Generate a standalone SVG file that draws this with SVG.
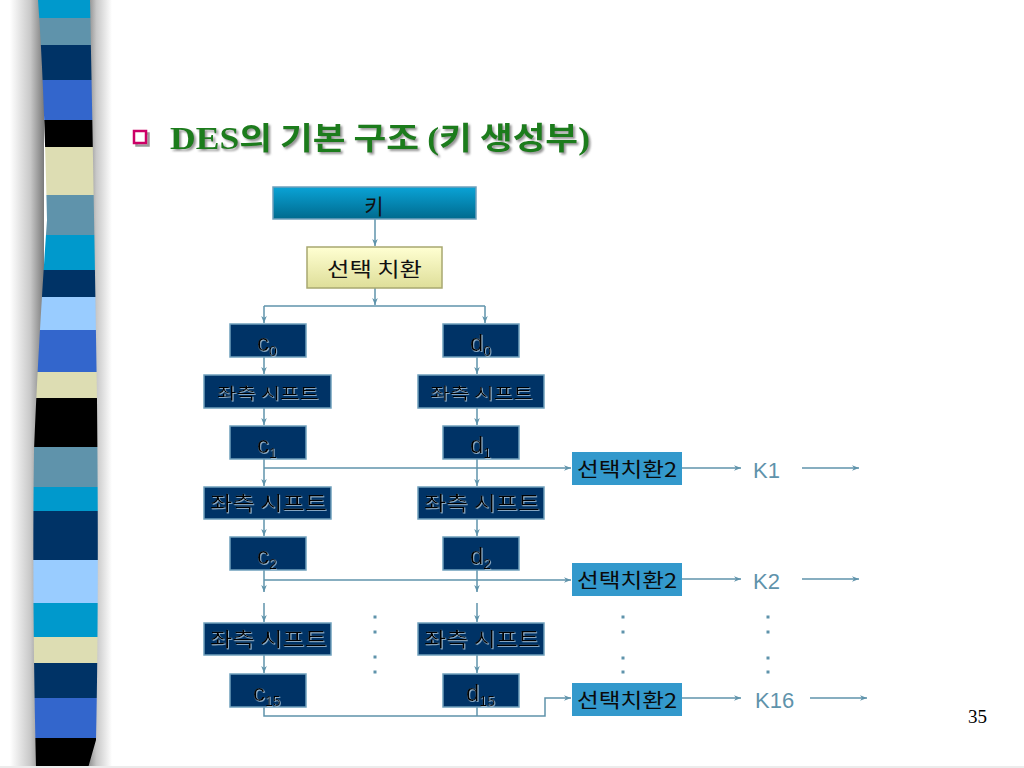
<svg xmlns="http://www.w3.org/2000/svg" width="1024" height="768" viewBox="0 0 1024 768">
<style>
.cn{fill:none;stroke:#5F93AB;stroke-width:1.5}
.nv{fill:#003366;stroke:#6FA0BC;stroke-width:1.5}
.sel2{fill:#3399CC}
.kr{font-family:"Noto Sans CJK KR","Liberation Sans",sans-serif}
.dk{fill:#050505;filter:url(#lt)}
.lat{font-family:"Liberation Sans",Arial,sans-serif}
.kl{font-family:"Liberation Sans",Arial,sans-serif;font-size:22px;fill:#5F93AB}
.dot{fill:#5F93AB}
</style>
<defs>
<marker id="ah" viewBox="0 0 10 10" refX="10" refY="5" markerWidth="7" markerHeight="7" markerUnits="userSpaceOnUse" orient="auto">
<path d="M0,1 L10,5 L0,9 L3,5 Z" fill="#5F93AB"/>
</marker>
<linearGradient id="keyg" x1="0" y1="0" x2="0" y2="1">
<stop offset="0" stop-color="#0AA3D6"/>
<stop offset="1" stop-color="#006A8E"/>
</linearGradient>
<linearGradient id="yelg" x1="0" y1="0" x2="0" y2="1">
<stop offset="0" stop-color="#FFFFD2"/>
<stop offset="1" stop-color="#DEDE99"/>
</linearGradient>
<linearGradient id="shL" x1="0" y1="0" x2="1" y2="0">
<stop offset="0" stop-color="#ffffff"/>
<stop offset="0.6" stop-color="#c8c8c8"/>
<stop offset="1" stop-color="#7a7a7a"/>
</linearGradient>
<linearGradient id="shR" x1="0" y1="0" x2="1" y2="0">
<stop offset="0" stop-color="#7a7a7a"/>
<stop offset="0.4" stop-color="#c8c8c8"/>
<stop offset="1" stop-color="#ffffff"/>
</linearGradient>
<filter id="lt" x="-10%" y="-20%" width="130%" height="150%">
<feDropShadow dx="0.8" dy="0.8" stdDeviation="0.3" flood-color="#B8D2E4" flood-opacity="0.9"/>
</filter>
<filter id="ts" x="-5%" y="-20%" width="115%" height="150%">
<feDropShadow dx="2" dy="2" stdDeviation="0.8" flood-color="#7a7a7a" flood-opacity="0.8"/>
</filter>
<clipPath id="barclip">
<path d="M38,0 L90,0 Q94,200 97,400 Q99,600 96,740 L88,768 L36,768 Q32,600 34,450 Q38,350 47,220 Q44,80 38,0 Z"/>
</clipPath>
</defs>
<rect width="1024" height="768" fill="#ffffff"/>
<g id="sidebar">
<rect x="10" y="0" width="34" height="768" fill="url(#shL)"/>
<rect x="86" y="0" width="26" height="768" fill="url(#shR)"/>
<g clip-path="url(#barclip)">
<rect x="20" y="0" width="90" height="18" fill="#0099CC"/>
<rect x="20" y="18" width="90" height="27" fill="#5F93AB"/>
<rect x="20" y="45" width="90" height="35" fill="#003366"/>
<rect x="20" y="80" width="90" height="40" fill="#3366CC"/>
<rect x="20" y="120" width="90" height="27" fill="#000000"/>
<rect x="20" y="147" width="90" height="48" fill="#DDDDB3"/>
<rect x="20" y="195" width="90" height="40" fill="#5F93AB"/>
<rect x="20" y="235" width="90" height="35" fill="#0099CC"/>
<rect x="20" y="270" width="90" height="27" fill="#003366"/>
<rect x="20" y="297" width="90" height="33" fill="#99CCFF"/>
<rect x="20" y="330" width="90" height="42" fill="#3366CC"/>
<rect x="20" y="372" width="90" height="26" fill="#DDDDB3"/>
<rect x="20" y="398" width="90" height="49" fill="#000000"/>
<rect x="20" y="447" width="90" height="40" fill="#5F93AB"/>
<rect x="20" y="487" width="90" height="24" fill="#0099CC"/>
<rect x="20" y="511" width="90" height="49" fill="#003366"/>
<rect x="20" y="560" width="90" height="43" fill="#99CCFF"/>
<rect x="20" y="603" width="90" height="34" fill="#0099CC"/>
<rect x="20" y="637" width="90" height="26" fill="#DDDDB3"/>
<rect x="20" y="663" width="90" height="35" fill="#003366"/>
<rect x="20" y="698" width="90" height="40" fill="#3366CC"/>
<rect x="20" y="738" width="90" height="30" fill="#000000"/>
</g>
</g>
<rect x="0" y="766" width="1024" height="2" fill="#ececec"/>
<g id="title">
<rect x="135" y="132" width="12" height="12" fill="none" stroke="#9a9a9a" stroke-width="2.5" transform="translate(1.5,1.5)"/>
<rect x="134" y="131" width="12" height="12" fill="#ffffff" stroke="#CC0066" stroke-width="2.5"/>
<text x="170" y="149" font-size="31" font-weight="bold" fill="#1E7B1E" filter="url(#ts)" textLength="420" lengthAdjust="spacingAndGlyphs"><tspan font-family="'Liberation Serif','Times New Roman',serif">DES</tspan><tspan font-family="'Noto Sans CJK KR',sans-serif">의 기본 구조 </tspan><tspan font-family="'Liberation Serif',serif">(</tspan><tspan font-family="'Noto Sans CJK KR',sans-serif">키 생성부</tspan><tspan font-family="'Liberation Serif',serif">)</tspan></text>
</g>
<g id="connectors">
<path class="cn" d="M375,219 V246" marker-end="url(#ah)"/>
<path class="cn" d="M375,288 V305" marker-end="url(#ah)"/>
<path class="cn" d="M264,306 H485"/>
<path class="cn" d="M264,306 V323" marker-end="url(#ah)"/>
<path class="cn" d="M485,306 V323" marker-end="url(#ah)"/>
<path class="cn" d="M264,357 V374" marker-end="url(#ah)"/>
<path class="cn" d="M477,357 V374" marker-end="url(#ah)"/>
<path class="cn" d="M264,408 V425" marker-end="url(#ah)"/>
<path class="cn" d="M477,408 V425" marker-end="url(#ah)"/>
<path class="cn" d="M264,459 V486" marker-end="url(#ah)"/>
<path class="cn" d="M477,459 V486" marker-end="url(#ah)"/>
<path class="cn" d="M264,468 H571" marker-end="url(#ah)"/>
<path class="cn" d="M264,519 V536" marker-end="url(#ah)"/>
<path class="cn" d="M477,519 V536" marker-end="url(#ah)"/>
<path class="cn" d="M264,570 V592" marker-end="url(#ah)"/>
<path class="cn" d="M477,570 V592" marker-end="url(#ah)"/>
<path class="cn" d="M264,580 H571" marker-end="url(#ah)"/>
<path class="cn" d="M264,603 V622" marker-end="url(#ah)"/>
<path class="cn" d="M477,603 V622" marker-end="url(#ah)"/>
<path class="cn" d="M264,655 V673" marker-end="url(#ah)"/>
<path class="cn" d="M477,655 V673" marker-end="url(#ah)"/>
<path class="cn" d="M264,707 V716 H545 V698 H571" marker-end="url(#ah)"/>
<path class="cn" d="M477,707 V716"/>
<path class="cn" d="M682,468 H741" marker-end="url(#ah)"/>
<path class="cn" d="M682,579 H741" marker-end="url(#ah)"/>
<path class="cn" d="M682,698 H741" marker-end="url(#ah)"/>
<path class="cn" d="M802,468 H859" marker-end="url(#ah)"/>
<path class="cn" d="M802,579 H859" marker-end="url(#ah)"/>
<path class="cn" d="M810,698 H867" marker-end="url(#ah)"/>
</g>
<g id="key">
<rect x="273" y="187" width="203" height="32" fill="url(#keyg)" stroke="#6FA0BC" stroke-width="1.5"/>
<text class="kr" x="374" y="214" font-size="21" text-anchor="middle" fill="#111">키</text>
</g>
<g id="pc1">
<rect x="307" y="247" width="135" height="41" fill="url(#yelg)" stroke="#A8A870" stroke-width="1.5"/>
<text class="kr" x="327" y="277" font-size="20" fill="#111" textLength="95" lengthAdjust="spacingAndGlyphs">선택 치환</text>
</g>
<g id="c0"><rect class="nv" x="230" y="324" width="76" height="33"/><text class="lat dk" x="257" y="351" font-size="24">c<tspan font-size="14" dy="5">0</tspan></text></g>
<g id="d0"><rect class="nv" x="443" y="324" width="76" height="33"/><text class="lat dk" x="470" y="351" font-size="24">d<tspan font-size="14" dy="5">0</tspan></text></g>
<g id="shiftL1"><rect class="nv" x="204" y="375" width="127" height="33"/><text class="kr dk" x="217" y="399" font-size="16" textLength="102" lengthAdjust="spacingAndGlyphs">좌측 시프트</text></g>
<g id="shiftR1"><rect class="nv" x="418" y="375" width="126" height="33"/><text class="kr dk" x="430" y="399" font-size="16" textLength="103" lengthAdjust="spacingAndGlyphs">좌측 시프트</text></g>
<g id="c1"><rect class="nv" x="230" y="426" width="76" height="33"/><text class="lat dk" x="257" y="453" font-size="24">c<tspan font-size="14" dy="5">1</tspan></text></g>
<g id="d1"><rect class="nv" x="443" y="426" width="76" height="33"/><text class="lat dk" x="470" y="453" font-size="24">d<tspan font-size="14" dy="5">1</tspan></text></g>
<g id="shiftL2"><rect class="nv" x="204" y="487" width="127" height="32"/><text class="kr dk" x="210" y="511" font-size="20" textLength="117" lengthAdjust="spacingAndGlyphs">좌측 시프트</text></g>
<g id="shiftR2"><rect class="nv" x="418" y="487" width="126" height="32"/><text class="kr dk" x="424" y="511" font-size="20" textLength="116" lengthAdjust="spacingAndGlyphs">좌측 시프트</text></g>
<g id="c2"><rect class="nv" x="230" y="537" width="76" height="33"/><text class="lat dk" x="257" y="564" font-size="24">c<tspan font-size="14" dy="5">2</tspan></text></g>
<g id="d2"><rect class="nv" x="443" y="537" width="76" height="33"/><text class="lat dk" x="470" y="564" font-size="24">d<tspan font-size="14" dy="5">2</tspan></text></g>
<g id="shiftL3"><rect class="nv" x="204" y="623" width="127" height="32"/><text class="kr dk" x="210" y="647" font-size="20" textLength="117" lengthAdjust="spacingAndGlyphs">좌측 시프트</text></g>
<g id="shiftR3"><rect class="nv" x="418" y="623" width="126" height="32"/><text class="kr dk" x="424" y="647" font-size="20" textLength="116" lengthAdjust="spacingAndGlyphs">좌측 시프트</text></g>
<g id="c15"><rect class="nv" x="230" y="674" width="76" height="33"/><text class="lat dk" x="253" y="701" font-size="24">c<tspan font-size="14" dy="5">15</tspan></text></g>
<g id="d15"><rect class="nv" x="443" y="674" width="76" height="33"/><text class="lat dk" x="466" y="701" font-size="24">d<tspan font-size="14" dy="5">15</tspan></text></g>
<g id="pc2a"><rect class="sel2" x="572" y="452" width="110" height="33"/><text class="kr" x="577" y="477" font-size="20" fill="#0a0a0a" textLength="100" lengthAdjust="spacingAndGlyphs">선택치환2</text></g>
<g id="pc2b"><rect class="sel2" x="572" y="563" width="110" height="33"/><text class="kr" x="577" y="588" font-size="20" fill="#0a0a0a" textLength="100" lengthAdjust="spacingAndGlyphs">선택치환2</text></g>
<g id="pc2c"><rect class="sel2" x="572" y="683" width="110" height="33"/><text class="kr" x="577" y="708" font-size="20" fill="#0a0a0a" textLength="100" lengthAdjust="spacingAndGlyphs">선택치환2</text></g>
<g id="K1"><text class="kl" x="753" y="478">K1</text></g>
<g id="K2"><text class="kl" x="753" y="589">K2</text></g>
<g id="K16"><text class="kl" x="755" y="708">K16</text></g>
<g id="dots">
<rect class="dot" x="373.5" y="615.5" width="3" height="3"/>
<rect class="dot" x="373.5" y="630.5" width="3" height="3"/>
<rect class="dot" x="373.5" y="655.5" width="3" height="3"/>
<rect class="dot" x="373.5" y="670.5" width="3" height="3"/>
<rect class="dot" x="621.5" y="615.5" width="3" height="3"/>
<rect class="dot" x="621.5" y="630.5" width="3" height="3"/>
<rect class="dot" x="621.5" y="656.5" width="3" height="3"/>
<rect class="dot" x="621.5" y="670.5" width="3" height="3"/>
<rect class="dot" x="766.5" y="615.5" width="3" height="3"/>
<rect class="dot" x="766.5" y="630.5" width="3" height="3"/>
<rect class="dot" x="766.5" y="656.5" width="3" height="3"/>
<rect class="dot" x="766.5" y="670.5" width="3" height="3"/>
</g>
<text x="968" y="723" font-family="'Liberation Serif','Times New Roman',serif" font-size="19" fill="#000">35</text>
</svg>
